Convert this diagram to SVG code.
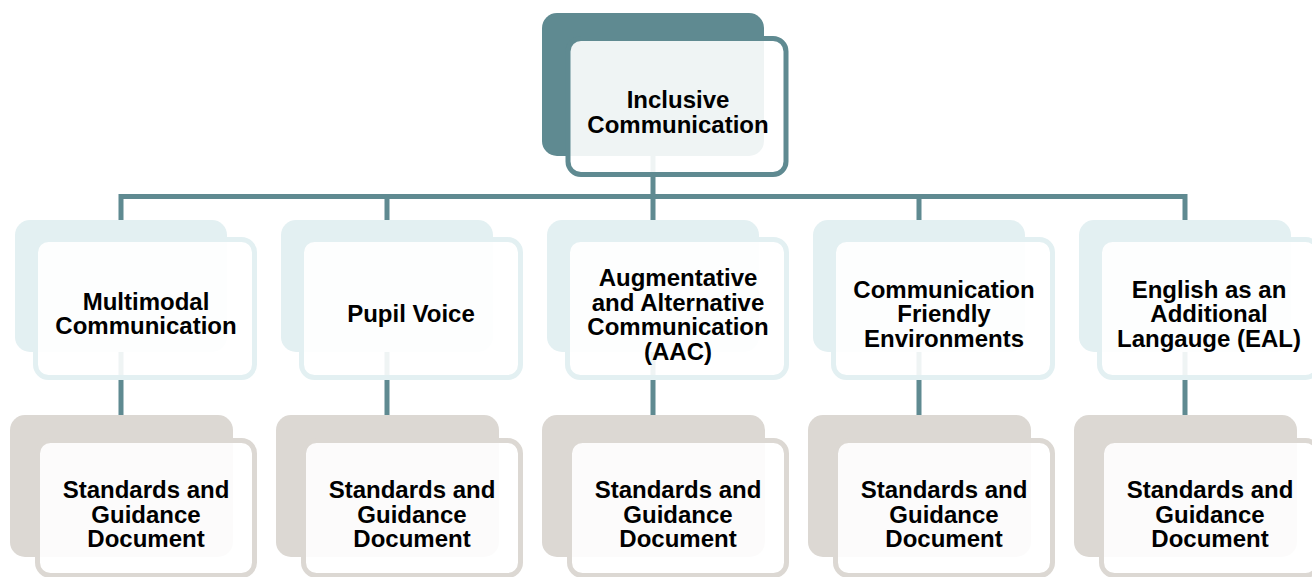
<svg xmlns="http://www.w3.org/2000/svg" width="1312" height="577" viewBox="0 0 1312 577">
<style>
.t{font-family:"Liberation Sans",Arial,sans-serif;font-weight:bold;font-size:24px;fill:#000;text-anchor:middle}
.fr{fill:#fff;fill-opacity:0.9;stroke-width:5}
.c{fill:none;stroke:#5f8a91;stroke-width:5}
.b0{fill:#5f8a91}.s0{stroke:#5f8a91}
.b1{fill:#e3f0f2}.s1{stroke:#e3f0f2}
.b2{fill:#dcd8d3}.s2{stroke:#dcd8d3}
</style>
<rect width="1312" height="577" fill="#fff"/>
<g id="connectors">
<path class="c" d="M653 156V196.5"/>
<path class="c" d="M121 220V196.5H1185V220"/>
<path class="c" d="M387 196.5V220M653 196.5V220M919 196.5V220"/>
<path class="c" d="M121 352V416M387 352V416M653 352V416M919 352V416M1185 352V416"/>
</g>
<g id="n-inclusive">
<rect class="b0" x="542" y="13" width="222" height="143" rx="15"/>
<rect class="fr s0" x="568" y="38.5" width="218" height="136" rx="13"/>
<text class="t" x="678" y="108">Inclusive</text>
<text class="t" x="678" y="133">Communication</text>
</g>
<g id="n-multimodal">
<rect class="b1" x="15" y="220" width="212" height="132" rx="15"/>
<rect class="fr s1" x="35.5" y="239.5" width="219" height="138" rx="13"/>
<text class="t" x="146" y="309.5">Multimodal</text>
<text class="t" x="146" y="334">Communication</text>
</g>
<g id="n-pupil">
<rect class="b1" x="281" y="220" width="212" height="132" rx="15"/>
<rect class="fr s1" x="301.5" y="239.5" width="219" height="138" rx="13"/>
<text class="t" x="411" y="322">Pupil Voice</text>
</g>
<g id="n-aac">
<rect class="b1" x="547" y="220" width="212" height="132" rx="15"/>
<rect class="fr s1" x="567.5" y="239.5" width="219" height="138" rx="13"/>
<text class="t" x="678" y="286">Augmentative</text>
<text class="t" x="678" y="310.5">and Alternative</text>
<text class="t" x="678" y="335">Communication</text>
<text class="t" x="678" y="359.5">(AAC)</text>
</g>
<g id="n-cfe">
<rect class="b1" x="813" y="220" width="212" height="132" rx="15"/>
<rect class="fr s1" x="833.5" y="239.5" width="219" height="138" rx="13"/>
<text class="t" x="944" y="297.5">Communication</text>
<text class="t" x="944" y="322">Friendly</text>
<text class="t" x="944" y="346.5">Environments</text>
</g>
<g id="n-eal">
<rect class="b1" x="1079" y="220" width="212" height="132" rx="15"/>
<rect class="fr s1" x="1099.5" y="239.5" width="219" height="138" rx="13"/>
<text class="t" x="1209" y="297.5">English as an</text>
<text class="t" x="1209" y="322">Additional</text>
<text class="t" x="1209" y="346.5">Langauge (EAL)</text>
</g>
<g id="d-1">
<rect class="b2" x="10" y="415" width="223" height="142" rx="15"/>
<rect class="fr s2" x="37.5" y="440.5" width="217" height="135" rx="13"/>
<text class="t" x="146" y="498">Standards and</text>
<text class="t" x="146" y="522.5">Guidance</text>
<text class="t" x="146" y="547">Document</text>
</g>
<g id="d-2">
<rect class="b2" x="276" y="415" width="223" height="142" rx="15"/>
<rect class="fr s2" x="303.5" y="440.5" width="217" height="135" rx="13"/>
<text class="t" x="412" y="498">Standards and</text>
<text class="t" x="412" y="522.5">Guidance</text>
<text class="t" x="412" y="547">Document</text>
</g>
<g id="d-3">
<rect class="b2" x="542" y="415" width="223" height="142" rx="15"/>
<rect class="fr s2" x="569.5" y="440.5" width="217" height="135" rx="13"/>
<text class="t" x="678" y="498">Standards and</text>
<text class="t" x="678" y="522.5">Guidance</text>
<text class="t" x="678" y="547">Document</text>
</g>
<g id="d-4">
<rect class="b2" x="808" y="415" width="223" height="142" rx="15"/>
<rect class="fr s2" x="835.5" y="440.5" width="217" height="135" rx="13"/>
<text class="t" x="944" y="498">Standards and</text>
<text class="t" x="944" y="522.5">Guidance</text>
<text class="t" x="944" y="547">Document</text>
</g>
<g id="d-5">
<rect class="b2" x="1074" y="415" width="223" height="142" rx="15"/>
<rect class="fr s2" x="1101.5" y="440.5" width="217" height="135" rx="13"/>
<text class="t" x="1210" y="498">Standards and</text>
<text class="t" x="1210" y="522.5">Guidance</text>
<text class="t" x="1210" y="547">Document</text>
</g>
</svg>
